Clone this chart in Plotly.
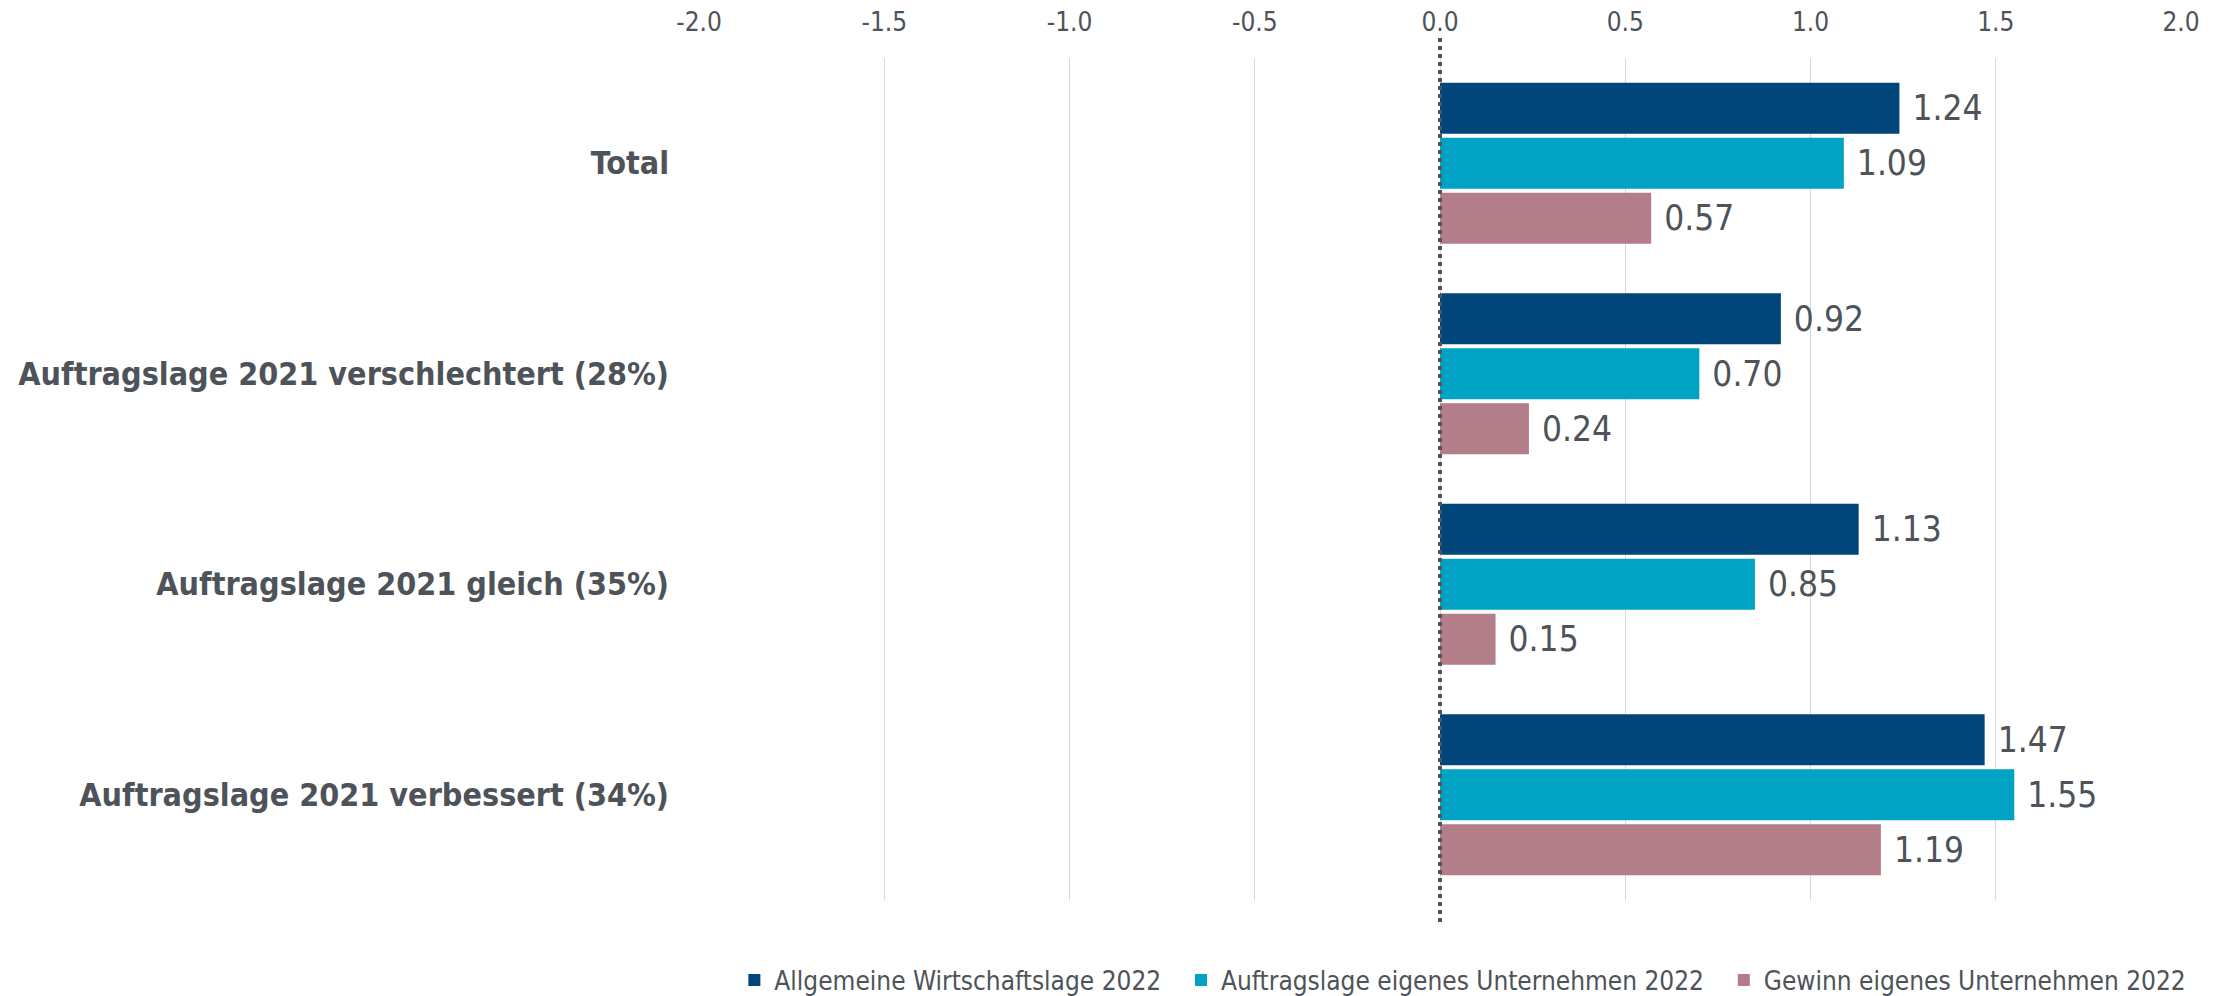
import plotly.graph_objects as go

categories = ["Total", "Auftragslage 2021 verschlechtert (28%)",
              "Auftragslage 2021 gleich (35%)", "Auftragslage 2021 verbessert (34%)"]
series_names = ["Allgemeine Wirtschaftslage 2022",
                "Auftragslage eigenes Unternehmen 2022",
                "Gewinn eigenes Unternehmen 2022"]
allgemeine = [1.24, 0.92, 1.13, 1.47]
auftragslage = [1.09, 0.70, 0.85, 1.55]
gewinn = [0.57, 0.24, 0.15, 1.19]
series_values = [allgemeine, auftragslage, gewinn]
colors = ["#00467A", "#00A3C4", "#B37D89"]
tick_vals = [-2.0, -1.5, -1.0, -0.5, 0.0, 0.5, 1.0, 1.5, 2.0]
tick_text = ["-2.0", "-1.5", "-1.0", "-0.5", "0.0", "0.5", "1.0", "1.5", "2.0"]

FONT = "DejaVu Sans Condensed, DejaVu Sans, Liberation Sans, sans-serif"
TXT = "#4D5359"
legend_pad = ["\u00a0\u00a0", "\u00a0\u00a0", ""]

fig = go.Figure()
for name, vals, col, pad in zip(series_names, series_values, colors, legend_pad):
    fig.add_trace(go.Bar(
        y=categories, x=vals, name=name + pad, orientation="h",
        marker=dict(color=col, line=dict(width=0)),
        texttemplate="\u00a0%{x:.2f}", textposition="outside",
        constraintext="none", cliponaxis=False,
        textfont=dict(family=FONT, size=35, color=TXT),
        hovertemplate=name + ": %{x:.2f}<extra></extra>",
    ))

fig.add_shape(type="line", xref="x", yref="paper", x0=0, x1=0, y0=-0.026, y1=1.026,
              line=dict(color="#50555B", width=4, dash="4px,4px"), layer="above")

fig.update_layout(
    width=2228, height=996,
    paper_bgcolor="white", plot_bgcolor="white",
    margin=dict(l=699, r=47, t=58, b=96, autoexpand=False),
    barmode="group", bargap=0.216, bargroupgap=0.07,
    font=dict(family=FONT, color=TXT),
    showlegend=True,
    legend=dict(orientation="h", x=1.007, xanchor="right", y=-0.095, yanchor="middle",
                font=dict(family=FONT, size=26, color=TXT), traceorder="normal",
                itemclick=False, itemdoubleclick=False),
    xaxis=dict(side="top", range=[-2, 2], tickvals=tick_vals, ticktext=tick_text,
               showgrid=True, gridcolor="#D9D9D9", gridwidth=1, zeroline=False,
               showline=False, ticks="", ticklabelstandoff=21,
               tickfont=dict(family=FONT, size=26, color=TXT), fixedrange=True),
    yaxis=dict(categoryorder="array", categoryarray=categories, autorange="reversed",
               showgrid=False, zeroline=False, showline=False, ticks="",
               ticklabelstandoff=29, automargin=False,
               tickfont=dict(family=FONT, size=32, color=TXT, weight="bold"),
               fixedrange=True),
)

fig.write_html("out.html", config={"displayModeBar": False},
               post_script="document.body.style.margin='0';")
